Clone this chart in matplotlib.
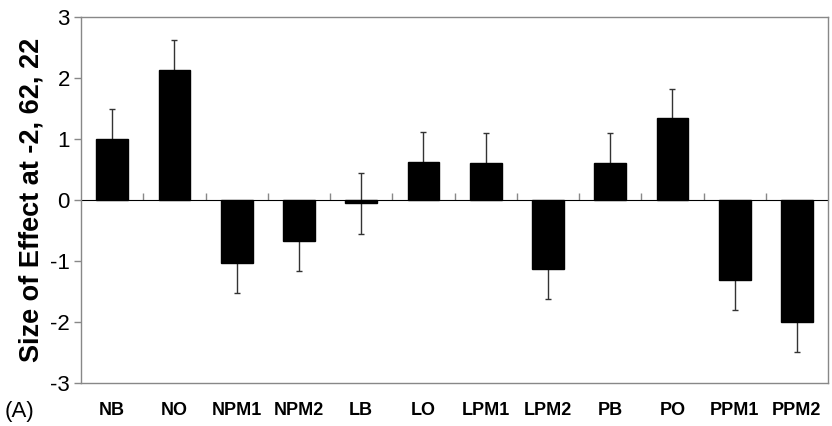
import numpy as np
import matplotlib
matplotlib.use("Agg")
import matplotlib.pyplot as plt

plt.rcParams['font.family'] = ['Liberation Sans', 'DejaVu Sans']
plt.rcParams['axes.unicode_minus'] = False

labels = ['NB', 'NO', 'NPM1', 'NPM2', 'LB', 'LO', 'LPM1', 'LPM2', 'PB', 'PO', 'PPM1', 'PPM2']
effect = [1.00, 2.13, -1.03, -0.67, -0.05, 0.62, 0.60, -1.13, 0.60, 1.34, -1.31, -2.00]
err = [0.50, 0.49, 0.49, 0.49, 0.50, 0.49, 0.50, 0.50, 0.50, 0.48, 0.49, 0.50]

fig = plt.figure(figsize=(8.32, 4.26), dpi=100)
ax = fig.add_axes([0.0974, 0.101, 0.8978, 0.859])

x = np.arange(len(labels))
ax.bar(x, effect, width=0.51, color='black', edgecolor='black', zorder=3)
ax.errorbar(x, effect, yerr=err, fmt='none', ecolor='#333333', elinewidth=1,
            capsize=2.5, capthick=1, zorder=2)

ax.set_xlim(-0.5, len(labels) - 0.5)
ax.set_ylim(-3, 3)
ax.set_yticks([-3, -2, -1, 0, 1, 2, 3])
ax.tick_params(axis='y', direction='out', length=5, width=1, color='#888888',
               labelsize=16, pad=3)

ax.set_xticks(x)
ax.set_xticklabels(labels, fontsize=13, fontweight='bold')
ax.tick_params(axis='x', length=0, pad=14)

for s in ax.spines.values():
    s.set_color('#888888')
    s.set_linewidth(1)

# zero line with tick marks between categories
zero = ax.secondary_xaxis(0.5)
zero.set_xticks(np.arange(len(labels) - 1) + 0.5)
zero.set_xticklabels([])
zero.tick_params(axis='x', direction='out', length=5, width=1, color='#888888')
zero.spines['bottom'].set_color('#666666')
zero.spines['bottom'].set_linewidth(1)

ax.set_ylabel('Size of Effect at -2, 62, 22', fontsize=19.5, fontweight='bold', labelpad=4)

fig.text(0.006, 0.02, '(A)', fontsize=16)

fig.savefig('out.png', dpi=100)
